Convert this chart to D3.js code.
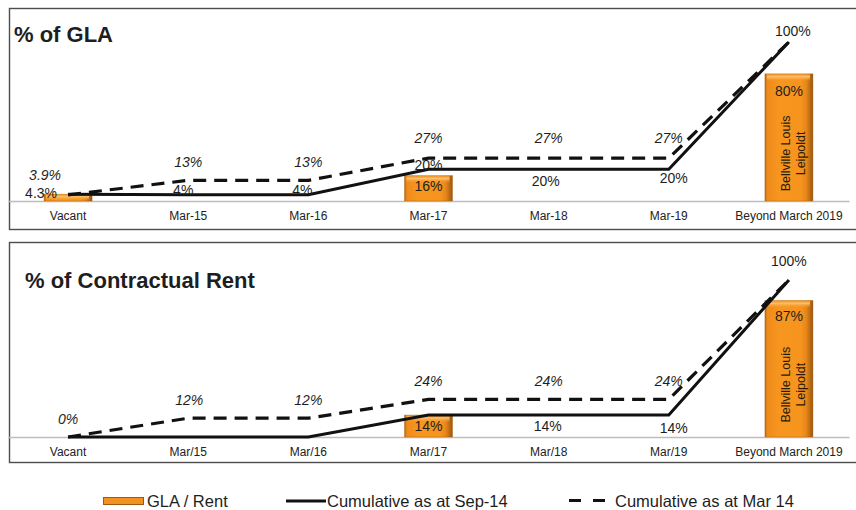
<!DOCTYPE html>
<html>
<head>
<meta charset="utf-8">
<script src="https://cdn.jsdelivr.net/npm/d3@7"></script>
<style>
  html, body { margin: 0; padding: 0; background: #fff; }
  svg { display: block; font-family: "Liberation Sans", Arial, sans-serif; }
</style>
</head>
<body>
<svg id="chart" width="856" height="510"></svg>
<script>
// ---- Data ----
const categoriesGLA  = ["Vacant", "Mar-15", "Mar-16", "Mar-17", "Mar-18", "Mar-19", "Beyond March 2019"];
const categoriesRent = ["Vacant", "Mar/15", "Mar/16", "Mar/17", "Mar/18", "Mar/19", "Beyond March 2019"];

// bars: GLA / Rent expiring in each period (null = no bar)
const glaBars   = [4.3, null, null, 16, null, null, 80];
const glaSep14  = [4.3, 4, 4, 20, 20, 20, 100];
const glaMar14  = [3.9, 13, 13, 27, 27, 27, 100];

const rentBars  = [null, null, null, 14, null, null, 87];
const rentSep14 = [0, 0, 0, 14, 14, 14, 100];
const rentMar14 = [0, 12, 12, 24, 24, 24, 100];

const barNote = ["Bellville  Louis", "Leipoldt"];
const legendLabels = ["GLA / Rent", "Cumulative as at Sep-14", "Cumulative as at Mar 14"];

// which values get printed (true = show label)
const glaBarShow   = [false, false, false, true, false, false, true];
const glaSepShow   = [true, true, true, true, true, true, true];
const glaMarShow   = [true, true, true, true, true, true, false];
const rentBarShow  = [false, false, false, true, false, false, true];
const rentSepShow  = [false, false, false, false, true, true, true];
const rentMarShow  = [true, true, true, true, true, true, false];

// ---- Label nudges (dx, dy from the point) ----
const glaSepNudge  = [[-27, 4], [-5, 0], [-6, 0], [0, 1], [-3, 17], [5, 14], [4, -6]];
const glaMarNudge  = [[-23, -15], [0, -13], [0, -13], [0, -15], [0, -15], [0, -15], [0, 0]];
const glaBarNudge  = [[0, 0], [0, 0], [0, 0], [0, 15.5], [0, 0], [0, 0], [0, 22]];
const rentSepNudge = [[0, 0], [0, 0], [0, 0], [0, 0], [-1, 16], [5, 18], [0, -14]];
const rentMarNudge = [[0, -13], [1, -13], [0, -13], [0, -13], [0, -13], [0, -13], [0, 0]];
const rentBarNudge = [[0, 0], [0, 0], [0, 0], [0, 16], [0, 0], [0, 0], [0, 21]];

const pct = v => v + "%";

const svg = d3.select("#chart");

// ---- Bar fill ----
const defs = svg.append("defs");
const grad = defs.append("linearGradient").attr("id", "barFill")
  .attr("x1", "0%").attr("x2", "100%").attr("y1", "0%").attr("y2", "0%");
[[0, "#b4650f"], [0.05, "#ee8b1c"], [0.3, "#f7961f"], [0.75, "#f6941e"], [0.86, "#e7861a"], [0.93, "#c06e14"], [1, "#9a5510"]]
  .forEach(([o, c]) => grad.append("stop").attr("offset", o).attr("stop-color", c));
const topGrad = defs.append("linearGradient").attr("id", "barTop")
  .attr("x1", "0%").attr("x2", "0%").attr("y1", "0%").attr("y2", "100%");
[[0, "#f09020", 1], [0.35, "#fcc06e", 1], [1, "#f7951f", 0]]
  .forEach(([o, c, a]) => topGrad.append("stop").attr("offset", o).attr("stop-color", c).attr("stop-opacity", a));

const x = d3.scaleBand().range([8, 849]).paddingInner(0.6).paddingOuter(0.3);

function drawPanel(cfg) {
  const g = svg.append("g");
  x.domain(cfg.cats);
  const y = d3.scaleLinear().domain([0, 100]).range([cfg.base, cfg.top]);
  const cx = i => x(cfg.cats[i]) + x.bandwidth() / 2;

  // frame
  g.append("rect")
    .attr("x", 9.5).attr("y", cfg.boxTop + 0.5)
    .attr("width", 852).attr("height", cfg.boxH)
    .attr("fill", "none").attr("stroke", "#4d4d4d").attr("stroke-width", 1.4);

  // title
  g.append("text").attr("x", cfg.titleX).attr("y", cfg.titleY)
    .attr("font-size", 22).attr("font-weight", "bold").attr("fill", "#1e1e1e")
    .text(cfg.title);

  // axis
  const axis = g.append("g").attr("transform", `translate(0,${cfg.base})`)
    .call(d3.axisBottom(x).tickSize(0).tickPadding(10));
  axis.select(".domain").attr("stroke", "#bdbdbd").attr("stroke-width", 1.5);
  axis.selectAll("text").attr("font-size", 12).attr("fill", "#222")
    .attr("font-family", "Liberation Sans, Arial, sans-serif");

  // bars
  const barData = cfg.bars.map((v, i) => ({ v, i })).filter(d => d.v != null);
  const bars = g.append("g");
  bars.selectAll("rect.bar").data(barData).join("rect").attr("class", "bar")
    .attr("x", d => x(cfg.cats[d.i])).attr("width", x.bandwidth())
    .attr("y", d => y(d.v)).attr("height", d => y(0) - y(d.v))
    .attr("fill", "url(#barFill)")
    .attr("stroke", "#a8620f").attr("stroke-opacity", 0.45).attr("stroke-width", 0.8);
  bars.selectAll("rect.cap").data(barData).join("rect").attr("class", "cap")
    .attr("x", d => x(cfg.cats[d.i]) + 2).attr("width", x.bandwidth() - 5)
    .attr("y", d => y(d.v) + 0.5).attr("height", d => Math.min(7, y(0) - y(d.v) - 1))
    .attr("fill", "url(#barTop)");

  // rotated note on the last bar
  const li = cfg.cats.length - 1;
  const noteY = (y(cfg.bars[li]) + y(0)) / 2 + 16;
  const note = g.append("text")
    .attr("transform", `translate(${cx(li)},${noteY}) rotate(-90)`)
    .attr("text-anchor", "middle").attr("font-size", 12.5).attr("fill", "#2a1a08");
  barNote.forEach((t, k) => note.append("tspan").attr("x", 0).attr("y", 1.5 + k * 14.5).text(t));

  // lines
  const line = d3.line().x((d, i) => cx(i)).y(d => y(d));
  g.append("path").datum(cfg.mar).attr("d", line)
    .attr("fill", "none").attr("stroke", "#111").attr("stroke-width", 3.2)
    .attr("stroke-dasharray", "13,8");
  g.append("path").datum(cfg.sep).attr("d", line)
    .attr("fill", "none").attr("stroke", "#111").attr("stroke-width", 3);

  // labels
  const labels = g.append("g").attr("font-size", 14).attr("fill", "#1e1e1e").attr("text-anchor", "middle");
  function addLabels(vals, show, nudge, italic) {
    vals.forEach((v, i) => {
      if (v == null || !show[i]) return;
      labels.append("text")
        .attr("x", cx(i) + nudge[i][0])
        .attr("y", y(v) + nudge[i][1])
        .attr("font-style", italic ? "italic" : "normal")
        .text(pct(v));
    });
  }
  addLabels(cfg.bars, cfg.barShow, cfg.barNudge, false);
  addLabels(cfg.mar, cfg.marShow, cfg.marNudge, true);
  addLabels(cfg.sep, cfg.sepShow, cfg.sepNudge, false);
}

drawPanel({
  cats: categoriesGLA, bars: glaBars, sep: glaSep14, mar: glaMar14,
  barShow: glaBarShow, sepShow: glaSepShow, marShow: glaMarShow,
  barNudge: glaBarNudge, sepNudge: glaSepNudge, marNudge: glaMarNudge,
  title: "% of GLA", titleX: 14, titleY: 42,
  boxTop: 8, boxH: 221, base: 201, top: 42
});

drawPanel({
  cats: categoriesRent, bars: rentBars, sep: rentSep14, mar: rentMar14,
  barShow: rentBarShow, sepShow: rentSepShow, marShow: rentMarShow,
  barNudge: rentBarNudge, sepNudge: rentSepNudge, marNudge: rentMarNudge,
  title: "% of Contractual Rent", titleX: 25, titleY: 288,
  boxTop: 242, boxH: 220, base: 437, top: 280
});

// ---- Legend ----
const lg = svg.append("g").attr("font-size", 16.5).attr("fill", "#1e1e1e");
lg.append("rect").attr("x", 103.5).attr("y", 497.5).attr("width", 40).attr("height", 7)
  .attr("fill", "#f29020").attr("stroke", "#9a5a12").attr("stroke-width", 1);
lg.append("text").attr("x", 147).attr("y", 507).text(legendLabels[0]);
lg.append("line").attr("x1", 286).attr("x2", 326).attr("y1", 501).attr("y2", 501)
  .attr("stroke", "#111").attr("stroke-width", 3);
lg.append("text").attr("x", 327).attr("y", 507).text(legendLabels[1]);
lg.append("line").attr("x1", 569).attr("x2", 606).attr("y1", 500.5).attr("y2", 500.5)
  .attr("stroke", "#111").attr("stroke-width", 3.2).attr("stroke-dasharray", "12,12");
lg.append("text").attr("x", 615).attr("y", 507).text(legendLabels[2]);
</script>
</body>
</html>
